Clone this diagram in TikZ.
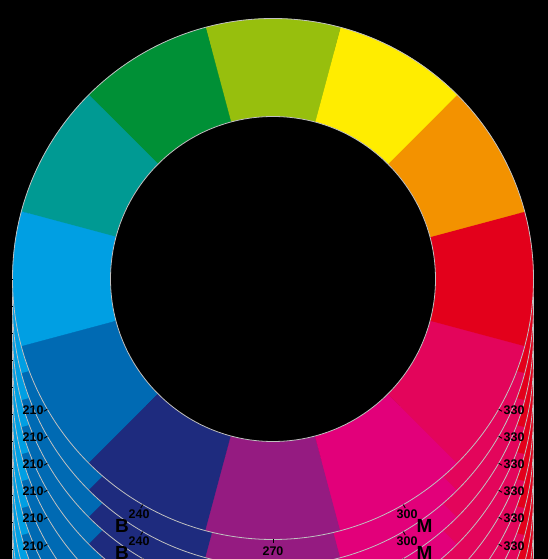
\documentclass[tikz,border=0pt]{standalone}
\usepackage{fontspec}
\setmainfont{Liberation Sans}
\definecolor{hueA}{HTML}{E3001B}
\definecolor{hueB}{HTML}{F39200}
\definecolor{hueC}{HTML}{FFED00}
\definecolor{hueD}{HTML}{97BF0D}
\definecolor{hueE}{HTML}{009036}
\definecolor{hueF}{HTML}{009A93}
\definecolor{hueG}{HTML}{009FE3}
\definecolor{hueH}{HTML}{006AB3}
\definecolor{hueI}{HTML}{1E2B7E}
\definecolor{hueJ}{HTML}{951B81}
\definecolor{hueK}{HTML}{E2007A}
\definecolor{hueL}{HTML}{E3055B}
\definecolor{ringgray}{HTML}{C0C0C0}
\begin{document}
\begin{tikzpicture}[x=1pt,y=1pt,
  ringline/.style={draw=ringgray,line width=0.8pt},
  huetick/.style={draw=black,line width=0.9pt},
  numlabel/.style={inner sep=0pt,text=black,font=\fontsize{12.5}{12.5}\selectfont\bfseries},
  letterlabel/.style={inner sep=0pt,text=black,font=\fontsize{19}{19}\selectfont\bfseries}]
\fill[black] (0,0) rectangle (548,559);
\useasboundingbox (0,0) rectangle (548,559);
\foreach \k in {14,13,...,0}{
  \pgfmathsetmacro{\cy}{280-27*\k}
  \coordinate (c\k) at (273,\cy);
  \foreach \h/\col in {0/hueA,30/hueB,60/hueC,90/hueD,120/hueE,150/hueF,180/hueG,210/hueH,240/hueI,270/hueJ,300/hueK,330/hueL}{
    \filldraw[fill=\col,draw=\col,line width=0.3pt] (c\k) -- ++(\h-15:260.5) arc[start angle=\h-15,end angle=\h+15,radius=260.5] -- cycle;
  }
  \fill[black] (c\k) circle[radius=162.5];
  \draw[ringline] (c\k) circle[radius=260.5];
  \draw[ringline] (c\k) circle[radius=162.5];
  \foreach \t in {0,180,210,240,270,300,330}{
    \draw[huetick] (c\k) ++(\t:260.5) -- ++(\t:4);
  }
  \ifnum\k<6
  \node[numlabel,anchor=base east] (l210-\k) at (43.8,{\cy-136}) {210};
  \node[numlabel,anchor=base west] (l330-\k) at (503.5,{\cy-136}) {330};
  \fi
  \ifnum\k<2
  \node[letterlabel,anchor=base west] (lB-\k) at (115,{\cy-253}) {B};
  \node[numlabel,anchor=base west] (l240-\k) at (128.5,{\cy-240}) {240};
  \node[numlabel,anchor=base west] (l300-\k) at (396.5,{\cy-240}) {300};
  \node[letterlabel,anchor=base west] (lM-\k) at (416.5,{\cy-253.5}) {M};
  \fi
  \ifnum\k<1
  \node[numlabel,anchor=base] (l270-\k) at (273,{\cy-276}) {270};
  \fi
}
\end{tikzpicture}
\end{document}
